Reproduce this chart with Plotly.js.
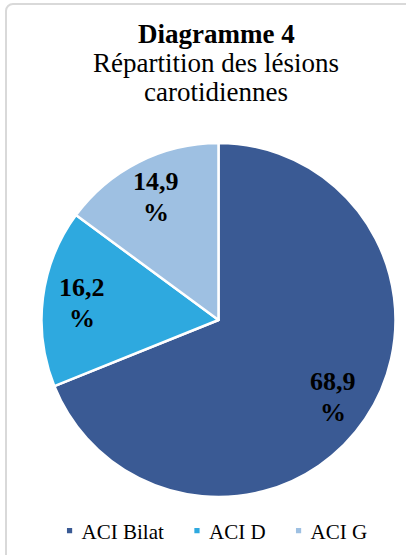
<!DOCTYPE html>
<html>
<head>
<meta charset="utf-8">
<script src="https://cdn.plot.ly/plotly-3.0.1.min.js"></script>
<style>
  html, body { margin: 0; padding: 0; background: #ffffff; }
  #wrap { position: relative; width: 406px; height: 555px; overflow: hidden; }
  #chart { width: 406px; height: 555px; }
  #frame { position: absolute; left: 5px; top: 3px; width: 440px; height: 600px;
           border: 2px solid #d9d9d9; border-radius: 8px; pointer-events: none; box-sizing: border-box; }
</style>
</head>
<body>
<div id="wrap">
  <div id="chart"></div>
  <div id="frame"></div>
</div>
<script>
// Data
const categories = ['ACI Bilat', 'ACI D', 'ACI G'];
const percentages = [68.9, 16.2, 14.9];
const sliceColors = ['#3A5A94', '#2EA9DF', '#9EC0E2'];
const titleLine1 = 'Diagramme 4';
const titleLine2 = 'Répartition des lésions';
const titleLine3 = 'carotidiennes';

const serif = '"Liberation Serif", "Times New Roman", Times, serif';
const numberTexts = percentages.map(v => v.toFixed(1).replace('.', ','));

const W = 406, H = 555;
const cx = 218.5, cy = 320, R = 177;
const labelRadius = 0.78;

const trace = {
  type: 'pie',
  labels: categories,
  values: percentages,
  textinfo: 'none',
  marker: { colors: sliceColors, line: { color: '#ffffff', width: 2.5 } },
  sort: false,
  direction: 'clockwise',
  rotation: 0,
  hoverinfo: 'none',
  domain: { x: [(cx - R) / W, (cx + R) / W], y: [1 - (cy + R) / H, 1 - (cy - R) / H] }
};

const py = p => 1 - p / H;
const titleFont = { family: serif, size: 27, color: '#000000' };

const annotations = [
  { text: '<b>' + titleLine1 + '</b>', x: 216 / W, y: py(34), xref: 'paper', yref: 'paper',
    xanchor: 'center', yanchor: 'middle', showarrow: false, font: titleFont },
  { text: titleLine2, x: 216 / W, y: py(63), xref: 'paper', yref: 'paper',
    xanchor: 'center', yanchor: 'middle', showarrow: false, font: titleFont },
  { text: titleLine3, x: 216 / W, y: py(92), xref: 'paper', yref: 'paper',
    xanchor: 'center', yanchor: 'middle', showarrow: false, font: titleFont }
];

// Slice labels, placed along each slice's mid-angle (derived from the values)
const total = percentages.reduce((a, b) => a + b, 0);
let cum = 0;
const labelFont = { family: serif, size: 26, color: '#000000' };
percentages.forEach((v, i) => {
  const mid = (cum + v / 2) / total;
  cum += v;
  const th = 2 * Math.PI * mid;
  const lx = cx + labelRadius * R * Math.sin(th);
  const ly = cy - labelRadius * R * Math.cos(th);
  annotations.push({ text: '<b>' + numberTexts[i] + '</b>', x: lx / W, y: py(ly - 15.5),
    xref: 'paper', yref: 'paper', xanchor: 'center', yanchor: 'middle', showarrow: false, font: labelFont });
  annotations.push({ text: '<b>%</b>', x: lx / W, y: py(ly + 15.5),
    xref: 'paper', yref: 'paper', xanchor: 'center', yanchor: 'middle', showarrow: false, font: labelFont });
});

const layout = {
  width: W, height: H,
  margin: { l: 0, r: 0, t: 0, b: 0 },
  paper_bgcolor: '#ffffff',
  showlegend: true,
  legend: {
    orientation: 'h', x: 0.51, xanchor: 'center', y: py(531), yanchor: 'middle',
    font: { family: serif, size: 21, color: '#000000' },
    itemwidth: 30, traceorder: 'normal'
  },
  annotations: annotations
};

Plotly.newPlot('chart', [trace], layout, { displayModeBar: false, staticPlot: true }).then(() => {
  document.querySelectorAll('#chart .legendpoints path').forEach(p => {
    const t = p.getAttribute('transform') || '';
    p.setAttribute('transform', t + ' translate(8,0) scale(0.55)');
  });
});
</script>
</body>
</html>
